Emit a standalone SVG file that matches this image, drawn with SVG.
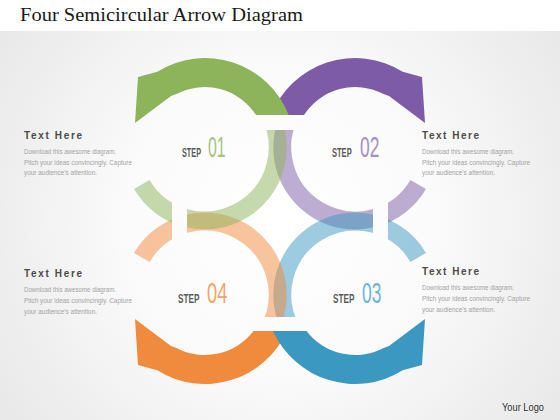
<svg xmlns="http://www.w3.org/2000/svg" width="560" height="420" viewBox="0 0 560 420">
<defs>
<radialGradient id="bg" cx="280" cy="221" r="330" gradientUnits="userSpaceOnUse">
<stop offset="0" stop-color="#ffffff"/>
<stop offset="0.45" stop-color="#fbfbfb"/>
<stop offset="1" stop-color="#e9e9e9"/>
</radialGradient>
<mask id="gaps" maskUnits="userSpaceOnUse" x="0" y="0" width="560" height="420">
<rect x="0" y="0" width="560" height="420" fill="#fff"/>
<rect x="240" y="95" width="80" height="35" fill="#000"/>
<rect x="240" y="317" width="80" height="35" fill="#000"/>
<rect x="172" y="190" width="15" height="62" fill="#000"/>
<rect x="373" y="190" width="15" height="62" fill="#000"/>
</mask>
<style>
.pale{fill:none;stroke-width:18;stroke-opacity:0.5}
.title{font-family:"Liberation Serif",serif;font-size:19px;fill:#1a1a1a}
.th{font-family:"Liberation Sans",Arial,sans-serif;font-size:10px;font-weight:bold;fill:#4a4a4a}
.body{font-family:"Liberation Sans",Arial,sans-serif;font-size:7px;fill:#a3a3a3}
.step{font-family:"Liberation Sans",Arial,sans-serif;font-size:13px;font-weight:bold;fill:#5a5a5a}
.num{font-family:"Liberation Sans",Arial,sans-serif;font-size:29px}
.logo{font-family:"Liberation Sans",Arial,sans-serif;font-size:10.5px;fill:#333}
</style>
</defs>
<rect x="0" y="0" width="560" height="420" fill="url(#bg)"/>
<rect x="0" y="0" width="560" height="31" fill="#ffffff"/>
<text class="title" x="20" y="21" textLength="283" lengthAdjust="spacingAndGlyphs">Four Semicircular Arrow Diagram</text>

<g id="connectors">
<g mask="url(#gaps)">
<path class="pale" stroke="#7d5ba6" d="M 292.4 110.4 A 73 73 0 1 0 418.2 184.5"/>
<path class="pale" stroke="#3b98c0" d="M 292.4 331.6 A 73 73 0 1 1 418.2 257.5"/>
<path class="pale" stroke="#f08a3c" d="M 267.6 331.6 A 73 73 0 1 0 141.8 257.5"/>
<path class="pale" stroke="#8db45a" d="M 267.6 110.4 A 73 73 0 1 1 141.8 184.5"/>
</g>
</g>

<g id="step2">
<path fill="#7d5ba6" d="M 271.3 115 A 90 90 0 0 1 402.7 71.7 L 422 77 L 425 123 L 389 96 L 383.6 94.1 A 61 61 0 0 0 304 115 Z"/>
<text class="step" transform="translate(332 157) scale(0.58 1)">STEP</text>
<text class="num" transform="translate(360 157) scale(0.6 1)" fill="#a48fc4">02</text>
</g>
<g id="step1">
<path fill="#8db45a" d="M 288.7 115 A 90 90 0 0 0 157.3 71.7 L 138 77 L 135 123 L 171 96 L 176.4 94.1 A 61 61 0 0 1 256 115 Z"/>
<text class="step" transform="translate(182 157) scale(0.56 1)">STEP</text>
<text class="num" transform="translate(208 157) scale(0.55 1)" fill="#a8c57e">01</text>
</g>
<g id="step4">
<path fill="#f08a3c" d="M 287 331 A 90 90 0 0 1 157.3 370.3 L 138 365 L 135 319 L 171 346 L 176.4 347.9 A 61 61 0 0 0 253.5 331 Z"/>
<text class="step" transform="translate(178 303) scale(0.63 1)">STEP</text>
<text class="num" transform="translate(207 303) scale(0.63 1)" fill="#f2a66a">04</text>
</g>
<g id="step3">
<path fill="#3b98c0" d="M 273 331 A 90 90 0 0 0 402.7 370.3 L 422 365 L 425 319 L 389 346 L 383.6 347.9 A 61 61 0 0 1 306.5 331 Z"/>
<text class="step" transform="translate(333 303) scale(0.63 1)">STEP</text>
<text class="num" transform="translate(362 303) scale(0.6 1)" fill="#6cb5d3">03</text>
</g>

<g id="text-tl">
<text class="th" x="24" y="139" textLength="58" lengthAdjust="spacing">Text Here</text>
<text class="body" x="24" y="154" textLength="92" lengthAdjust="spacingAndGlyphs">Download this awesome diagram.</text>
<text class="body" x="24" y="165" textLength="108" lengthAdjust="spacingAndGlyphs">Pitch your ideas convincingly. Capture</text>
<text class="body" x="24" y="175" textLength="73" lengthAdjust="spacingAndGlyphs">your audience's attention.</text>
</g>
<g id="text-tr">
<text class="th" x="422" y="139" textLength="57" lengthAdjust="spacing">Text Here</text>
<text class="body" x="422" y="154" textLength="92" lengthAdjust="spacingAndGlyphs">Download this awesome diagram.</text>
<text class="body" x="422" y="165" textLength="108" lengthAdjust="spacingAndGlyphs">Pitch your ideas convincingly. Capture</text>
<text class="body" x="422" y="175" textLength="73" lengthAdjust="spacingAndGlyphs">your audience's attention.</text>
</g>
<g id="text-bl">
<text class="th" x="24" y="277" textLength="58" lengthAdjust="spacing">Text Here</text>
<text class="body" x="24" y="292" textLength="92" lengthAdjust="spacingAndGlyphs">Download this awesome diagram.</text>
<text class="body" x="24" y="303" textLength="108" lengthAdjust="spacingAndGlyphs">Pitch your ideas convincingly. Capture</text>
<text class="body" x="24" y="314" textLength="73" lengthAdjust="spacingAndGlyphs">your audience's attention.</text>
</g>
<g id="text-br">
<text class="th" x="422" y="275" textLength="57" lengthAdjust="spacing">Text Here</text>
<text class="body" x="422" y="290" textLength="92" lengthAdjust="spacingAndGlyphs">Download this awesome diagram.</text>
<text class="body" x="422" y="301" textLength="108" lengthAdjust="spacingAndGlyphs">Pitch your ideas convincingly. Capture</text>
<text class="body" x="422" y="312" textLength="73" lengthAdjust="spacingAndGlyphs">your audience's attention.</text>
</g>
<text class="logo" x="502" y="410.5" textLength="42" lengthAdjust="spacingAndGlyphs">Your Logo</text>
</svg>
